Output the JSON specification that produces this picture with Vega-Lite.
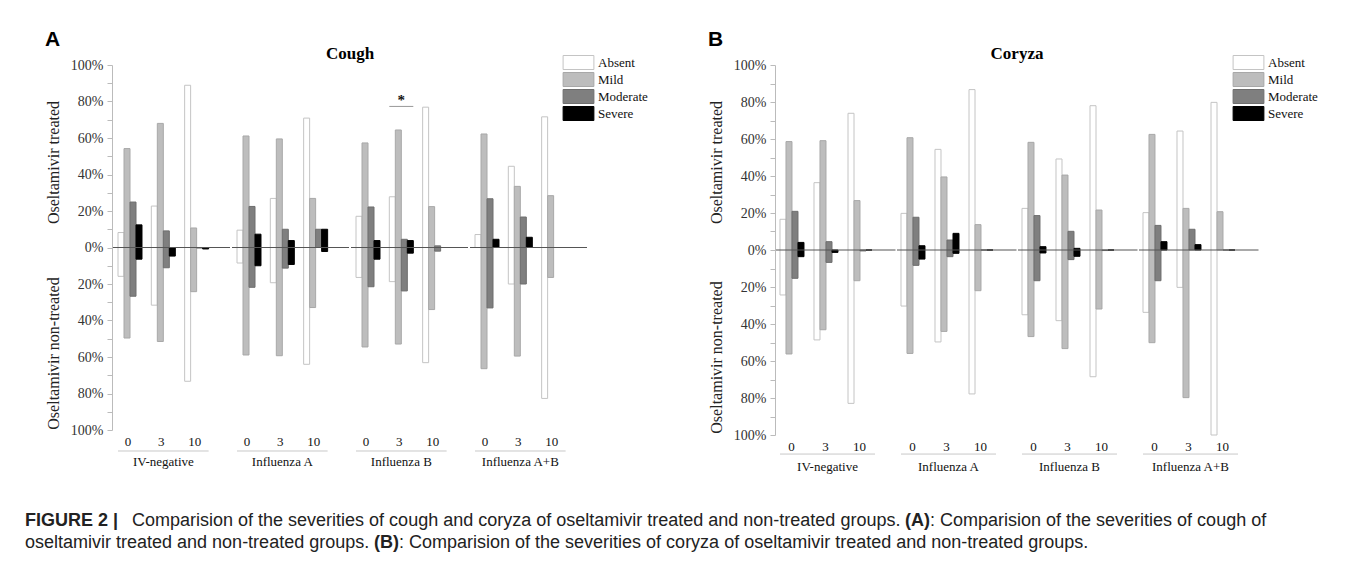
{
  "$schema": "https://vega.github.io/schema/vega-lite/v6.json",
  "padding": {"left": 25, "top": 29, "right": 0, "bottom": 0},
  "datasets": {
    "cough": [
      {"group":"IV-negative","day":0,"severity":"Absent","treated":8.2,"nontreated":-15.8},
      {"group":"IV-negative","day":0,"severity":"Mild","treated":54.2,"nontreated":-49.6},
      {"group":"IV-negative","day":0,"severity":"Moderate","treated":24.9,"nontreated":-26.7},
      {"group":"IV-negative","day":0,"severity":"Severe","treated":12.4,"nontreated":-6.4},
      {"group":"IV-negative","day":3,"severity":"Absent","treated":22.7,"nontreated":-31.6},
      {"group":"IV-negative","day":3,"severity":"Mild","treated":68,"nontreated":-51.5},
      {"group":"IV-negative","day":3,"severity":"Moderate","treated":9.1,"nontreated":-11.1},
      {"group":"IV-negative","day":3,"severity":"Severe","treated":0,"nontreated":-4.7},
      {"group":"IV-negative","day":10,"severity":"Absent","treated":88.9,"nontreated":-73.3},
      {"group":"IV-negative","day":10,"severity":"Mild","treated":10.7,"nontreated":-24.2},
      {"group":"IV-negative","day":10,"severity":"Moderate","treated":0,"nontreated":-0.3},
      {"group":"IV-negative","day":10,"severity":"Severe","treated":0,"nontreated":-0.8},
      {"group":"Influenza A","day":0,"severity":"Absent","treated":9.5,"nontreated":-8.5},
      {"group":"Influenza A","day":0,"severity":"Mild","treated":61.1,"nontreated":-58.9},
      {"group":"Influenza A","day":0,"severity":"Moderate","treated":22.5,"nontreated":-21.8},
      {"group":"Influenza A","day":0,"severity":"Severe","treated":7.3,"nontreated":-10},
      {"group":"Influenza A","day":3,"severity":"Absent","treated":26.9,"nontreated":-19.3},
      {"group":"Influenza A","day":3,"severity":"Mild","treated":59.5,"nontreated":-59.3},
      {"group":"Influenza A","day":3,"severity":"Moderate","treated":10,"nontreated":-11.3},
      {"group":"Influenza A","day":3,"severity":"Severe","treated":3.8,"nontreated":-9.3},
      {"group":"Influenza A","day":10,"severity":"Absent","treated":70.9,"nontreated":-64},
      {"group":"Influenza A","day":10,"severity":"Mild","treated":26.9,"nontreated":-32.9},
      {"group":"Influenza A","day":10,"severity":"Moderate","treated":10,"nontreated":0},
      {"group":"Influenza A","day":10,"severity":"Severe","treated":10,"nontreated":-2.2},
      {"group":"Influenza B","day":0,"severity":"Absent","treated":17.1,"nontreated":-16.4},
      {"group":"Influenza B","day":0,"severity":"Mild","treated":57.3,"nontreated":-54.5},
      {"group":"Influenza B","day":0,"severity":"Moderate","treated":22.2,"nontreated":-21.5},
      {"group":"Influenza B","day":0,"severity":"Severe","treated":3.8,"nontreated":-6.4},
      {"group":"Influenza B","day":3,"severity":"Absent","treated":27.8,"nontreated":-18.7,"sig":77.3,"mark":"*"},
      {"group":"Influenza B","day":3,"severity":"Mild","treated":64.4,"nontreated":-52.9},
      {"group":"Influenza B","day":3,"severity":"Moderate","treated":4.5,"nontreated":-23.8},
      {"group":"Influenza B","day":3,"severity":"Severe","treated":3.8,"nontreated":-3.1},
      {"group":"Influenza B","day":10,"severity":"Absent","treated":76.9,"nontreated":-63.1},
      {"group":"Influenza B","day":10,"severity":"Mild","treated":22.4,"nontreated":-34},
      {"group":"Influenza B","day":10,"severity":"Moderate","treated":0.9,"nontreated":-2},
      {"group":"Influenza B","day":10,"severity":"Severe","treated":0,"nontreated":0},
      {"group":"Influenza A+B","day":0,"severity":"Absent","treated":7.1,"nontreated":0},
      {"group":"Influenza A+B","day":0,"severity":"Mild","treated":62.2,"nontreated":-66.4},
      {"group":"Influenza A+B","day":0,"severity":"Moderate","treated":26.7,"nontreated":-33.1},
      {"group":"Influenza A+B","day":0,"severity":"Severe","treated":4.5,"nontreated":0},
      {"group":"Influenza A+B","day":3,"severity":"Absent","treated":44.5,"nontreated":-20},
      {"group":"Influenza A+B","day":3,"severity":"Mild","treated":33.5,"nontreated":-59.5},
      {"group":"Influenza A+B","day":3,"severity":"Moderate","treated":16.7,"nontreated":-20},
      {"group":"Influenza A+B","day":3,"severity":"Severe","treated":5.6,"nontreated":0},
      {"group":"Influenza A+B","day":10,"severity":"Absent","treated":71.6,"nontreated":-82.7},
      {"group":"Influenza A+B","day":10,"severity":"Mild","treated":28.4,"nontreated":-16.4},
      {"group":"Influenza A+B","day":10,"severity":"Moderate","treated":0,"nontreated":0},
      {"group":"Influenza A+B","day":10,"severity":"Severe","treated":0,"nontreated":0}
    ],
    "coryza": [
      {"group":"IV-negative","day":0,"severity":"Absent","treated":16.6,"nontreated":-24.3},
      {"group":"IV-negative","day":0,"severity":"Mild","treated":58.6,"nontreated":-56.2},
      {"group":"IV-negative","day":0,"severity":"Moderate","treated":20.9,"nontreated":-15.3},
      {"group":"IV-negative","day":0,"severity":"Severe","treated":4.1,"nontreated":-3.6},
      {"group":"IV-negative","day":3,"severity":"Absent","treated":36.4,"nontreated":-48.6},
      {"group":"IV-negative","day":3,"severity":"Mild","treated":59.1,"nontreated":-43.1},
      {"group":"IV-negative","day":3,"severity":"Moderate","treated":4.5,"nontreated":-6.7},
      {"group":"IV-negative","day":3,"severity":"Severe","treated":0,"nontreated":-1.3},
      {"group":"IV-negative","day":10,"severity":"Absent","treated":73.9,"nontreated":-82.9},
      {"group":"IV-negative","day":10,"severity":"Mild","treated":26.7,"nontreated":-16.6},
      {"group":"IV-negative","day":10,"severity":"Moderate","treated":0,"nontreated":-0.5},
      {"group":"IV-negative","day":10,"severity":"Severe","treated":0,"nontreated":0},
      {"group":"Influenza A","day":0,"severity":"Absent","treated":19.8,"nontreated":-30.3},
      {"group":"Influenza A","day":0,"severity":"Mild","treated":60.7,"nontreated":-55.9},
      {"group":"Influenza A","day":0,"severity":"Moderate","treated":17.7,"nontreated":-8.3},
      {"group":"Influenza A","day":0,"severity":"Severe","treated":2.3,"nontreated":-4.9},
      {"group":"Influenza A","day":3,"severity":"Absent","treated":54.4,"nontreated":-49.7},
      {"group":"Influenza A","day":3,"severity":"Mild","treated":39.5,"nontreated":-44},
      {"group":"Influenza A","day":3,"severity":"Moderate","treated":5.4,"nontreated":-3.6},
      {"group":"Influenza A","day":3,"severity":"Severe","treated":9,"nontreated":-1.8},
      {"group":"Influenza A","day":10,"severity":"Absent","treated":86.7,"nontreated":-77.8},
      {"group":"Influenza A","day":10,"severity":"Mild","treated":13.7,"nontreated":-22},
      {"group":"Influenza A","day":10,"severity":"Moderate","treated":0,"nontreated":0},
      {"group":"Influenza A","day":10,"severity":"Severe","treated":0,"nontreated":0},
      {"group":"Influenza B","day":0,"severity":"Absent","treated":22.5,"nontreated":-35},
      {"group":"Influenza B","day":0,"severity":"Mild","treated":58.2,"nontreated":-46.8},
      {"group":"Influenza B","day":0,"severity":"Moderate","treated":18.6,"nontreated":-16.6},
      {"group":"Influenza B","day":0,"severity":"Severe","treated":1.8,"nontreated":-1.6},
      {"group":"Influenza B","day":3,"severity":"Absent","treated":49.2,"nontreated":-38.2},
      {"group":"Influenza B","day":3,"severity":"Mild","treated":40.5,"nontreated":-53.3},
      {"group":"Influenza B","day":3,"severity":"Moderate","treated":10.1,"nontreated":-5.2},
      {"group":"Influenza B","day":3,"severity":"Severe","treated":0.9,"nontreated":-3.4},
      {"group":"Influenza B","day":10,"severity":"Absent","treated":78,"nontreated":-68.5},
      {"group":"Influenza B","day":10,"severity":"Mild","treated":21.6,"nontreated":-31.9},
      {"group":"Influenza B","day":10,"severity":"Moderate","treated":0,"nontreated":-0.3},
      {"group":"Influenza B","day":10,"severity":"Severe","treated":0,"nontreated":0},
      {"group":"Influenza A+B","day":0,"severity":"Absent","treated":20.2,"nontreated":-33.7},
      {"group":"Influenza A+B","day":0,"severity":"Mild","treated":62.5,"nontreated":-50.1},
      {"group":"Influenza A+B","day":0,"severity":"Moderate","treated":13.3,"nontreated":-16.6},
      {"group":"Influenza A+B","day":0,"severity":"Severe","treated":4.5,"nontreated":0},
      {"group":"Influenza A+B","day":3,"severity":"Absent","treated":64.3,"nontreated":-20.2},
      {"group":"Influenza A+B","day":3,"severity":"Mild","treated":22.5,"nontreated":-79.8},
      {"group":"Influenza A+B","day":3,"severity":"Moderate","treated":11.2,"nontreated":0},
      {"group":"Influenza A+B","day":3,"severity":"Severe","treated":2.9,"nontreated":0},
      {"group":"Influenza A+B","day":10,"severity":"Absent","treated":79.8,"nontreated":-100},
      {"group":"Influenza A+B","day":10,"severity":"Mild","treated":20.7,"nontreated":0},
      {"group":"Influenza A+B","day":10,"severity":"Moderate","treated":0,"nontreated":0},
      {"group":"Influenza A+B","day":10,"severity":"Severe","treated":0,"nontreated":0}
    ]
  },
  "title": {"text": ": Comparision of the severities of coryza of oseltamivir treated and non-treated groups.", "orient": "bottom", "anchor": "start", "frame": "bounds", "offset": -18, "dx": 374, "font": "Liberation Sans", "fontSize": 18, "fontWeight": "normal", "color": "#222"},
  "resolve": {"scale": {"fill": "independent", "stroke": "independent"}, "legend": {"fill": "independent", "stroke": "independent"}},
  "vconcat": [{
    "title": {"text": "(B)", "orient": "bottom", "anchor": "start", "frame": "bounds", "offset": -18, "dx": 349, "font": "Liberation Sans", "fontSize": 18, "fontWeight": "bold", "color": "#222"},
    "resolve": {"scale": {"fill": "independent", "stroke": "independent"}, "legend": {"fill": "independent", "stroke": "independent"}},
    "vconcat": [{
      "title": {"text": "oseltamivir treated and non-treated groups.", "orient": "bottom", "anchor": "start", "frame": "bounds", "offset": 4, "dx": 0, "font": "Liberation Sans", "fontSize": 18, "fontWeight": "normal", "color": "#222"},
      "resolve": {"scale": {"fill": "independent", "stroke": "independent"}, "legend": {"fill": "independent", "stroke": "independent"}},
      "vconcat": [{
        "title": {"text": "FIGURE 2 |", "orient": "bottom", "anchor": "start", "frame": "bounds", "offset": -18, "dx": -20, "font": "Liberation Sans", "fontSize": 18, "fontWeight": "bold", "color": "#222"},
        "resolve": {"scale": {"fill": "independent", "stroke": "independent"}, "legend": {"fill": "independent", "stroke": "independent"}},
        "vconcat": [{
          "title": {"text": ": Comparision of the severities of cough of", "orient": "bottom", "anchor": "start", "frame": "bounds", "offset": -18, "dx": 885, "font": "Liberation Sans", "fontSize": 18, "fontWeight": "normal", "color": "#222"},
          "resolve": {"scale": {"fill": "independent", "stroke": "independent"}, "legend": {"fill": "independent", "stroke": "independent"}},
          "vconcat": [{
            "title": {"text": "(A)", "orient": "bottom", "anchor": "start", "frame": "bounds", "offset": -18, "dx": 860, "font": "Liberation Sans", "fontSize": 18, "fontWeight": "bold", "color": "#222"},
            "resolve": {"scale": {"fill": "independent", "stroke": "independent"}, "legend": {"fill": "independent", "stroke": "independent"}},
            "vconcat": [{
              "title": {"text": "Comparision of the severities of cough and coryza of oseltamivir treated and non-treated groups.", "orient": "bottom", "anchor": "start", "frame": "bounds", "offset": 38, "dx": 87, "font": "Liberation Sans", "fontSize": 18, "fontWeight": "normal", "color": "#222"},
              "spacing": 60,
              "resolve": {"scale": {"fill": "independent", "stroke": "independent"}, "legend": {"fill": "independent", "stroke": "independent"}},
              "hconcat": [
                {
                  "data": {"name": "cough"},
                  "title": {"text": "A", "orient": "top", "anchor": "start", "frame": "bounds", "font": "Liberation Sans", "fontSize": 21, "fontWeight": "bold", "color": "#000", "offset": -5},
                  "facet": {
                    "column": {
                      "field": "group", "type": "nominal",
                      "sort": ["IV-negative", "Influenza A", "Influenza B", "Influenza A+B"],
                      "header": {"title": "Cough", "titleOrient": "top", "titleFont": "Liberation Serif", "titleFontSize": 17, "titleFontWeight": "bold", "titleColor": "#000", "titlePadding": -8, "labels": false}
                    }
                  },
                  "spacing": 0,
                  "spec": {
                    "width": 117,
                    "height": 365,
                    "resolve": {"axis": {"y": "independent"}},
                    "layer": [
                      {
                        "mark": {"type": "bar", "strokeWidth": 1},
                        "encoding": {
                          "x": {"field": "day", "type": "ordinal", "scale": {"domain": [0, 3, 10], "paddingInner": 0.28, "paddingOuter": 0.396, "align": 0.19}, "axis": null},
                          "xOffset": {"field": "severity", "type": "nominal", "scale": {"domain": ["Absent", "Mild", "Moderate", "Severe"], "paddingInner": 0, "paddingOuter": 0}},
                          "y": {"field": "treated", "type": "quantitative", "scale": {"domain": [-100, 100], "nice": false},
                                "axis": {"orient": "left", "values": [-100, -90, -80, -70, -60, -50, -40, -30, -20, -10, 0, 10, 20, 30, 40, 50, 60, 70, 80, 90, 100],
                                         "labelExpr": "datum.value % 20 == 0 ? abs(datum.value) + '%' : ''",
                                         "grid": false, "domainColor": "#bbbbbb", "tickColor": "#bbbbbb", "tickSize": 5, "labelPadding": 4,
                                         "labelFont": "Liberation Serif", "labelFontSize": 14, "labelColor": "#333",
                                         "title": "Oseltamivir treated", "titleX": -59, "titleY": 97, "titleAngle": 270, "titleAlign": "center", "titleBaseline": "middle",
                                         "titleFont": "Liberation Serif", "titleFontSize": 16, "titleFontWeight": "normal", "titleColor": "#222"}},
                          "y2": {"field": "nontreated"},
                          "fill": {"field": "severity", "type": "nominal",
                                   "scale": {"domain": ["Absent", "Mild", "Moderate", "Severe"], "range": ["#ffffff", "#bdbdbd", "#7f7f7f", "#000000"]},
                                   "legend": {"title": null, "orient": "none", "legendX": 458, "legendY": -10, "padding": 0, "labelFont": "Liberation Serif", "labelFontSize": 13, "labelColor": "#111", "symbolType": "M-2.2,-1H2.2V1H-2.2Z", "symbolSize": 196, "symbolStrokeWidth": 1, "labelOffset": 12, "rowPadding": -2}},
                          "stroke": {"field": "severity", "type": "nominal",
                                     "scale": {"domain": ["Absent", "Mild", "Moderate", "Severe"], "range": ["#c4c4c4", "#a8a8a8", "#6e6e6e", "#000000"]},
                                     "legend": {"title": null, "orient": "none", "legendX": 458, "legendY": -10, "padding": 0, "labelFont": "Liberation Serif", "labelFontSize": 13, "labelColor": "#111", "symbolType": "M-2.2,-1H2.2V1H-2.2Z", "symbolSize": 196, "symbolStrokeWidth": 1, "labelOffset": 12, "rowPadding": -2}}
                        }
                      },
                      {
                        "transform": [{"filter": "datum.day == 0 && datum.severity == 'Absent'"}],
                        "mark": {"type": "rule", "color": "#555555", "strokeWidth": 1},
                        "encoding": {
                          "y": {"datum": 0, "type": "quantitative",
                                "axis": {"orient": "left", "labels": false, "ticks": false, "domain": false, "grid": false,
                                         "title": "Oseltamivir non-treated", "titleX": -59, "titleY": 288, "titleAngle": 270, "titleAlign": "center", "titleBaseline": "middle",
                                         "titleFont": "Liberation Serif", "titleFontSize": 16, "titleFontWeight": "normal", "titleColor": "#222"}}
                        }
                      },
                      {
                        "transform": [{"filter": "datum.severity == 'Absent'"}],
                        "mark": {"type": "text", "font": "Liberation Serif", "fontSize": 13, "color": "#111", "baseline": "middle", "dx": -2},
                        "encoding": {
                          "x": {"field": "day", "type": "ordinal", "axis": null},
                          "y": {"datum": -106.6, "type": "quantitative", "axis": null},
                          "text": {"field": "day"}
                        }
                      },
                      {
                        "transform": [{"filter": "datum.day == 0 && datum.severity == 'Absent'"}],
                        "mark": {"type": "rule", "color": "#c8c8c8", "strokeWidth": 1},
                        "encoding": {
                          "x": {"datum": 0, "type": "ordinal", "bandPosition": 0, "axis": null},
                          "x2": {"datum": 10, "bandPosition": 1},
                          "y": {"datum": -111.5, "type": "quantitative", "axis": null}
                        }
                      },
                      {
                        "transform": [{"filter": "datum.day == 0 && datum.severity == 'Absent'"}],
                        "mark": {"type": "text", "font": "Liberation Serif", "fontSize": 13, "color": "#111", "baseline": "middle"},
                        "encoding": {
                          "x": {"datum": 3, "type": "ordinal", "axis": null},
                          "y": {"datum": -117.5, "type": "quantitative", "axis": null},
                          "text": {"field": "group"}
                        }
                      },
                      {
                        "transform": [{"filter": "datum.sig > 0"}],
                        "mark": {"type": "rule", "color": "#999999", "strokeWidth": 1},
                        "encoding": {
                          "x": {"field": "day", "type": "ordinal", "bandPosition": 0, "axis": null},
                          "x2": {"field": "day", "bandPosition": 1},
                          "y": {"field": "sig", "type": "quantitative", "axis": null}
                        }
                      },
                      {
                        "transform": [{"filter": "datum.sig > 0"}],
                        "mark": {"type": "text", "font": "Liberation Serif", "fontSize": 15, "fontWeight": "bold", "baseline": "alphabetic", "dy": -1, "color": "#111"},
                        "encoding": {
                          "x": {"field": "day", "type": "ordinal", "axis": null},
                          "y": {"field": "sig", "type": "quantitative", "axis": null},
                          "text": {"field": "mark"}
                        }
                      }
                    ]
                  }
                },
                {
                  "data": {"name": "coryza"},
                  "title": {"text": "B", "orient": "top", "anchor": "start", "frame": "bounds", "font": "Liberation Sans", "fontSize": 21, "fontWeight": "bold", "color": "#000", "offset": -5},
                  "facet": {
                    "column": {
                      "field": "group", "type": "nominal",
                      "sort": ["IV-negative", "Influenza A", "Influenza B", "Influenza A+B"],
                      "header": {"title": "Coryza", "titleOrient": "top", "titleFont": "Liberation Serif", "titleFontSize": 17, "titleFontWeight": "bold", "titleColor": "#000", "titlePadding": -8, "labels": false}
                    }
                  },
                  "spacing": 0,
                  "spec": {
                    "width": 119.5,
                    "height": 370,
                    "resolve": {"axis": {"y": "independent"}},
                    "layer": [
                      {
                        "mark": {"type": "bar", "strokeWidth": 1},
                        "encoding": {
                          "x": {"field": "day", "type": "ordinal", "scale": {"domain": [0, 3, 10], "paddingInner": 0.206, "paddingOuter": 0.36, "align": 0.163}, "axis": null},
                          "xOffset": {"field": "severity", "type": "nominal", "scale": {"domain": ["Absent", "Mild", "Moderate", "Severe"], "paddingInner": 0, "paddingOuter": 0}},
                          "y": {"field": "treated", "type": "quantitative", "scale": {"domain": [-100, 100], "nice": false},
                                "axis": {"orient": "left", "values": [-100, -90, -80, -70, -60, -50, -40, -30, -20, -10, 0, 10, 20, 30, 40, 50, 60, 70, 80, 90, 100],
                                         "labelExpr": "datum.value % 20 == 0 ? abs(datum.value) + '%' : ''",
                                         "grid": false, "domainColor": "#bbbbbb", "tickColor": "#bbbbbb", "tickSize": 5, "labelPadding": 4,
                                         "labelFont": "Liberation Serif", "labelFontSize": 14, "labelColor": "#333",
                                         "title": "Oseltamivir treated", "titleX": -59, "titleY": 97, "titleAngle": 270, "titleAlign": "center", "titleBaseline": "middle",
                                         "titleFont": "Liberation Serif", "titleFontSize": 16, "titleFontWeight": "normal", "titleColor": "#222"}},
                          "y2": {"field": "nontreated"},
                          "fill": {"field": "severity", "type": "nominal",
                                   "scale": {"domain": ["Absent", "Mild", "Moderate", "Severe"], "range": ["#ffffff", "#bdbdbd", "#7f7f7f", "#000000"]},
                                   "legend": {"title": null, "orient": "none", "legendX": 465, "legendY": -10, "padding": 0, "labelFont": "Liberation Serif", "labelFontSize": 13, "labelColor": "#111", "symbolType": "M-2.2,-1H2.2V1H-2.2Z", "symbolSize": 196, "symbolStrokeWidth": 1, "labelOffset": 12, "rowPadding": -2}},
                          "stroke": {"field": "severity", "type": "nominal",
                                     "scale": {"domain": ["Absent", "Mild", "Moderate", "Severe"], "range": ["#c4c4c4", "#a8a8a8", "#6e6e6e", "#000000"]},
                                     "legend": {"title": null, "orient": "none", "legendX": 465, "legendY": -10, "padding": 0, "labelFont": "Liberation Serif", "labelFontSize": 13, "labelColor": "#111", "symbolType": "M-2.2,-1H2.2V1H-2.2Z", "symbolSize": 196, "symbolStrokeWidth": 1, "labelOffset": 12, "rowPadding": -2}}
                        }
                      },
                      {
                        "transform": [{"filter": "datum.day == 0 && datum.severity == 'Absent'"}],
                        "mark": {"type": "rule", "color": "#555555", "strokeWidth": 1},
                        "encoding": {
                          "y": {"datum": 0, "type": "quantitative",
                                "axis": {"orient": "left", "labels": false, "ticks": false, "domain": false, "grid": false,
                                         "title": "Oseltamivir non-treated", "titleX": -59, "titleY": 292, "titleAngle": 270, "titleAlign": "center", "titleBaseline": "middle",
                                         "titleFont": "Liberation Serif", "titleFontSize": 16, "titleFontWeight": "normal", "titleColor": "#222"}}
                        }
                      },
                      {
                        "transform": [{"filter": "datum.severity == 'Absent'"}],
                        "mark": {"type": "text", "font": "Liberation Serif", "fontSize": 13, "color": "#111", "baseline": "middle", "dx": -2},
                        "encoding": {
                          "x": {"field": "day", "type": "ordinal", "axis": null},
                          "y": {"datum": -106.5, "type": "quantitative", "axis": null},
                          "text": {"field": "day"}
                        }
                      },
                      {
                        "transform": [{"filter": "datum.day == 0 && datum.severity == 'Absent'"}],
                        "mark": {"type": "rule", "color": "#c8c8c8", "strokeWidth": 1},
                        "encoding": {
                          "x": {"datum": 0, "type": "ordinal", "bandPosition": 0, "axis": null},
                          "x2": {"datum": 10, "bandPosition": 1},
                          "y": {"datum": -110.3, "type": "quantitative", "axis": null}
                        }
                      },
                      {
                        "transform": [{"filter": "datum.day == 0 && datum.severity == 'Absent'"}],
                        "mark": {"type": "text", "font": "Liberation Serif", "fontSize": 13, "color": "#111", "baseline": "middle"},
                        "encoding": {
                          "x": {"datum": 3, "type": "ordinal", "axis": null},
                          "y": {"datum": -117.3, "type": "quantitative", "axis": null},
                          "text": {"field": "group"}
                        }
                      }
                    ]
                  }
                }
              ]
            }]
          }]
        }]
      }]
    }]
  }],
  "config": {
    "view": {"stroke": null},
    "font": "Liberation Serif",
    "background": "#ffffff"
  }
}
